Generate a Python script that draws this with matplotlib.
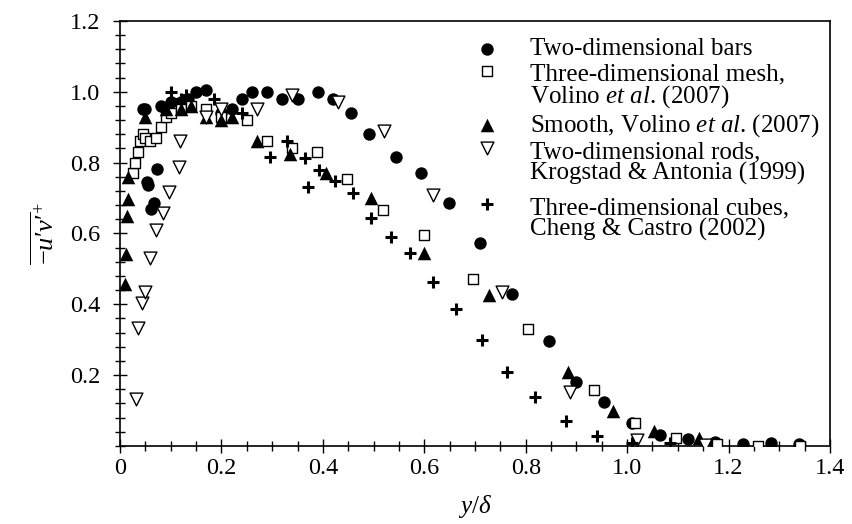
import numpy as np
import matplotlib
matplotlib.use("Agg")
from matplotlib import pyplot as plt
from matplotlib.ticker import MultipleLocator
from matplotlib.legend_handler import HandlerPathCollection

plt.rcParams["font.family"] = "Liberation Serif"
plt.rcParams["mathtext.fontset"] = "custom"
plt.rcParams["mathtext.rm"] = "Liberation Serif"
plt.rcParams["mathtext.it"] = "Liberation Serif:italic"

# two-dimensional bars (filled circles)
bars_x = [0.046, 0.05, 0.053, 0.055, 0.061, 0.067, 0.073, 0.08, 0.09, 0.10, 0.12, 0.135, 0.15, 0.17, 0.2,
          0.22, 0.24, 0.26, 0.29, 0.32, 0.35, 0.39, 0.42, 0.455, 0.49, 0.544, 0.594, 0.649, 0.709, 0.772,
          0.845, 0.899, 0.955, 1.009, 1.065, 1.12, 1.174, 1.229, 1.284, 1.339]
bars_y = [0.95, 0.95, 0.746, 0.737, 0.669, 0.686, 0.782, 0.96, 0.95, 0.97, 0.97, 0.98, 1.0, 1.005, 0.94,
          0.95, 0.98, 1.0, 1.0, 0.98, 0.98, 1.0, 0.98, 0.94, 0.88, 0.817, 0.772, 0.687, 0.573, 0.429,
          0.297, 0.18, 0.125, 0.064, 0.031, 0.02, 0.01, 0.005, 0.008, 0.005]

# three-dimensional mesh, Volino et al. (2007) (open squares)
mesh_x = [0.026, 0.03, 0.035, 0.04, 0.045, 0.05, 0.06, 0.07, 0.08, 0.09, 0.1, 0.12, 0.14, 0.17, 0.2,
          0.25, 0.29, 0.34, 0.388, 0.448, 0.518, 0.6, 0.696, 0.805, 0.934, 1.016, 1.097, 1.178, 1.259, 1.34]
mesh_y = [0.77, 0.80, 0.83, 0.86, 0.88, 0.87, 0.86, 0.87, 0.90, 0.93, 0.94, 0.95, 0.96, 0.95, 0.93,
          0.92, 0.86, 0.84, 0.829, 0.753, 0.667, 0.596, 0.471, 0.33, 0.158, 0.066, 0.022, 0.006, 0.0, 0.0]

# smooth, Volino et al. (2007) (filled triangles)
smooth_x = [0.01, 0.011, 0.013, 0.016, 0.016, 0.05, 0.09, 0.12, 0.14, 0.17, 0.2, 0.22, 0.27, 0.335,
            0.407, 0.494, 0.6, 0.728, 0.884, 0.972, 1.053, 1.141, 1.228]
smooth_y = [0.458, 0.542, 0.65, 0.697, 0.76, 0.93, 0.95, 0.95, 0.96, 0.93, 0.92, 0.93, 0.86, 0.823,
            0.772, 0.701, 0.546, 0.427, 0.21, 0.1, 0.043, 0.022, 0.003]

# two-dimensional rods, Krogstad & Antonia (1999) (open down triangles)
rods_x = [0.031, 0.035, 0.043, 0.049, 0.059, 0.07, 0.084, 0.097, 0.116, 0.118, 0.17, 0.2, 0.27, 0.34,
          0.43, 0.52, 0.618, 0.753, 0.888, 1.019, 1.154]
rods_y = [0.133, 0.334, 0.403, 0.436, 0.53, 0.61, 0.659, 0.717, 0.787, 0.86, 0.93, 0.95, 0.95, 0.99,
          0.97, 0.89, 0.709, 0.436, 0.151, 0.017, 0.003]

# three-dimensional cubes, Cheng & Castro (2002) (plus)
cubes_x = [0.1, 0.12, 0.13, 0.185, 0.24, 0.295, 0.33, 0.364, 0.371, 0.393, 0.424, 0.46, 0.494, 0.534,
           0.572, 0.617, 0.663, 0.713, 0.764, 0.819, 0.879, 0.941, 1.009, 1.085]
cubes_y = [1.0, 0.98, 0.99, 0.98, 0.94, 0.817, 0.86, 0.812, 0.732, 0.78, 0.749, 0.714, 0.643, 0.589,
           0.544, 0.464, 0.387, 0.299, 0.21, 0.139, 0.069, 0.028, 0.008, 0.008]

labels = ["Two-dimensional bars",
          "Three-dimensional mesh,\nVolino $\\it{et\\ al}$. (2007)",
          "Smooth, Volino $\\it{et\\ al}$. (2007)",
          "Two-dimensional rods,\nKrogstad & Antonia (1999)",
          "Three-dimensional cubes,\nCheng & Castro (2002)"]

xticks = [0, 0.2, 0.4, 0.6, 0.8, 1.0, 1.2, 1.4]
xticklabels = ["0", "0.2", "0.4", "0.6", "0.8", "1.0", "1.2", "1.4"]
yticks = [0.2, 0.4, 0.6, 0.8, 1.0, 1.2]
yticklabels = ["0.2", "0.4", "0.6", "0.8", "1.0", "1.2"]

fig = plt.figure(figsize=(8.53, 5.24), dpi=100)
ax = fig.add_axes([0.1407, 0.149, 0.8323, 0.811])

h1 = ax.scatter(bars_x, bars_y, marker="o", s=80, c="black", linewidths=0, label=labels[0], zorder=3)
h2 = ax.scatter(mesh_x, mesh_y, marker="s", s=62, facecolors="white", edgecolors="black", linewidths=1.0,
                label=labels[1], zorder=3)
h3 = ax.scatter(smooth_x, smooth_y, marker="^", s=95, c="black", linewidths=0, label=labels[2], zorder=3)
h4 = ax.scatter(rods_x, rods_y, marker="v", s=85, facecolors="white", edgecolors="black", linewidths=1.0,
                label=labels[3], zorder=3)
h5 = ax.scatter(cubes_x, cubes_y, marker="+", s=70, c="black", linewidths=2.2, label=labels[4], zorder=3)

ax.set_xlim(0, 1.4)
ax.set_ylim(0, 1.2)
ax.set_xticks(xticks)
ax.set_xticklabels(xticklabels)
ax.set_yticks(yticks)
ax.set_yticklabels(yticklabels)
ax.xaxis.set_minor_locator(MultipleLocator(0.05))
ax.yaxis.set_minor_locator(MultipleLocator(0.04))
ax.tick_params(which="both", direction="inout", labelsize=17.5, width=1.0)
ax.tick_params(which="major", length=10)
ax.tick_params(which="minor", length=7)
ax.tick_params(axis="x", pad=4)
ax.tick_params(axis="y", pad=9)
for sp in ax.spines.values():
    sp.set_linewidth(1.2)

ax.set_xlabel(r"$y/\delta$", fontsize=18, labelpad=10)
ax.set_ylabel("$\\overline{-u\\mathrm{\u2032}v\\mathrm{\u2032}}^{+}$", fontsize=19, labelpad=8)

# markers of the two-line entries sit on the first line
two_line = HandlerPathCollection(yoffsets=[1.35])
hmap = {h2: two_line, h4: two_line, h5: two_line}
leg_kw = dict(frameon=False, fontsize=18, handlelength=1.0, handletextpad=1.2, labelspacing=0.1,
              borderaxespad=0, borderpad=0, scatterpoints=1, handler_map=hmap)
leg1 = ax.legend([h1, h2, h3, h4], labels[:4], loc="upper left", bbox_to_anchor=(0.5, 0.96), **leg_kw)
ax.add_artist(leg1)
leg2 = ax.legend([h5], labels[4:], loc="upper left", bbox_to_anchor=(0.5, 0.585), **leg_kw)
for leg in (leg1, leg2):
    for t in leg.get_texts():
        t.set_linespacing(0.9)

fig.savefig("out.png", dpi=100)
